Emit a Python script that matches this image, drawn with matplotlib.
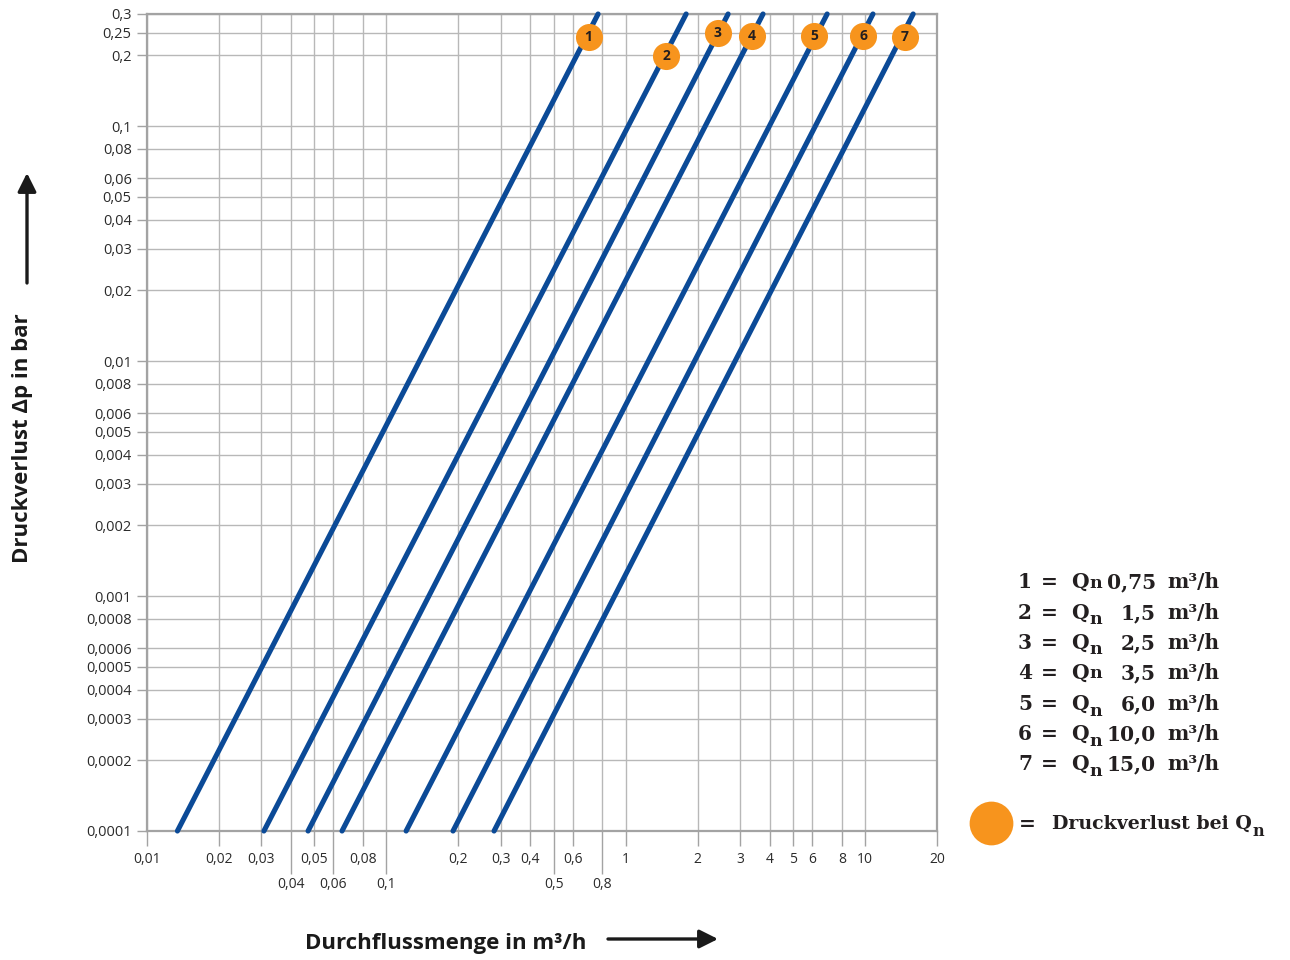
import matplotlib.pyplot as plt
from matplotlib.lines import Line2D
from matplotlib.ticker import FixedLocator, FixedFormatter, NullFormatter

# Kennlinien: Durchfluss am unteren (0,0001 bar) und oberen Rand (0,3 bar)
dp_range = [0.0001, 0.3]
q_start = [0.0134, 0.0308, 0.0471, 0.0653, 0.121, 0.190, 0.282]
q_end = [0.767, 1.79, 2.68, 3.75, 6.95, 10.8, 15.9]

# Druckverlust bei Qn (orange Punkte)
curve_ids = ['1', '2', '3', '4', '5', '6', '7']
marker_q = [0.70, 1.475, 2.43, 3.37, 6.12, 9.82, 14.7]
marker_dp = [0.24, 0.198, 0.248, 0.242, 0.242, 0.242, 0.24]

# Legende
qn_values = ['0,75', '1,5', '2,5', '3,5', '6,0', '10,0', '15,0']
qn_subscript = [False, True, True, False, True, True, True]

# Achsenteilung
x_ticks_row1 = [0.01, 0.02, 0.03, 0.05, 0.08, 0.2, 0.3, 0.4, 0.6, 1, 2, 3, 4, 5, 6, 8, 10, 20]
x_ticks_row2 = [0.04, 0.06, 0.1, 0.5, 0.8]
y_ticks = [0.0001, 0.0002, 0.0003, 0.0004, 0.0005, 0.0006, 0.0008,
           0.001, 0.002, 0.003, 0.004, 0.005, 0.006, 0.008,
           0.01, 0.02, 0.03, 0.04, 0.05, 0.06, 0.08,
           0.1, 0.2, 0.25, 0.3]


def fmt(v):
    return f'{v:g}'.replace('.', ',')


W, H = 1290, 960
BLUE = '#0b4a97'
ORANGE = '#f7941d'
GRID = '#b8b8b8'
FRAME = '#a3a3a3'
TEXT = '#2b2b2b'
SANS = ['Open Sans', 'DejaVu Sans']
SERIF = ['DejaVu Serif']


def fx(px):
    return px / W


def fy(py):
    return 1 - py / H


fig = plt.figure(figsize=(W / 100, H / 100), dpi=100)
ax = fig.add_axes([fx(147), fy(831), 790 / W, 817 / H])
ax.set_xscale('log')
ax.set_yscale('log')
ax.set_xlim(0.01, 20)
ax.set_ylim(0.0001, 0.3)

# Teilung und Gitter
ax.xaxis.set_major_locator(FixedLocator(x_ticks_row1))
ax.xaxis.set_major_formatter(FixedFormatter([fmt(v) for v in x_ticks_row1]))
ax.xaxis.set_minor_locator(FixedLocator(x_ticks_row2))
ax.xaxis.set_minor_formatter(FixedFormatter([fmt(v) for v in x_ticks_row2]))
ax.yaxis.set_major_locator(FixedLocator(y_ticks))
ax.yaxis.set_major_formatter(FixedFormatter([fmt(v) for v in y_ticks]))
ax.yaxis.set_minor_formatter(NullFormatter())
ax.yaxis.set_minor_locator(FixedLocator([]))

ax.tick_params(axis='x', which='major', length=11, width=1, color=FRAME, pad=4,
               labelsize=10, labelcolor=TEXT)
ax.tick_params(axis='x', which='minor', length=31, width=1, color=FRAME, pad=2,
               labelsize=10, labelcolor=TEXT)
ax.tick_params(axis='y', which='major', length=7, width=1, color=FRAME, pad=4,
               labelsize=10.5, labelcolor=TEXT)
for lab in ax.get_xticklabels(which='both') + ax.get_yticklabels():
    lab.set_family(SANS)

ax.grid(True, which='both', color=GRID, linewidth=1)
ax.set_axisbelow(True)
for sp in ax.spines.values():
    sp.set_color(FRAME)
    sp.set_linewidth(1.6)

# Kennlinien
for qs, qe in zip(q_start, q_end):
    ax.plot([qs, qe], dp_range, color=BLUE, linewidth=3.7,
            solid_capstyle='round', clip_on=False, zorder=3)

# Druckverlust bei Qn
for cid, q, dp in zip(curve_ids, marker_q, marker_dp):
    ax.plot(q, dp, 'o', markersize=19.5, color=ORANGE, markeredgewidth=0,
            clip_on=False, zorder=4)
    ax.text(q, dp, cid, ha='center', va='center', fontsize=10, fontweight='bold',
            color='#231f20', family=SANS, zorder=5)

# Achsenbeschriftungen mit Pfeilen
fig.text(fx(23), fy(438), 'Druckverlust \u0394p in bar', rotation=90,
         ha='center', va='center', fontsize=16, fontweight='bold',
         color='#1a1a1a', family=SANS)
ax.annotate('', xy=(fx(27), fy(173)), xytext=(fx(27), fy(283)),
            xycoords='figure fraction', textcoords='figure fraction',
            arrowprops=dict(arrowstyle='-|>', lw=2.4, color='#1a1a1a',
                            mutation_scale=28, shrinkA=0, shrinkB=0),
            annotation_clip=False)
fig.text(fx(446), fy(944), 'Durchflussmenge in m\u00b3/h', ha='center', va='center',
         fontsize=16, fontweight='bold', color='#1a1a1a', family=SANS)
ax.annotate('', xy=(fx(718), fy(939)), xytext=(fx(608), fy(939)),
            xycoords='figure fraction', textcoords='figure fraction',
            arrowprops=dict(arrowstyle='-|>', lw=2.4, color='#1a1a1a',
                            mutation_scale=28, shrinkA=0, shrinkB=0),
            annotation_clip=False)

# Legende rechts
renderer = fig.canvas.get_renderer()
row_y = [582, 613, 643, 673, 704, 734, 764]
legend_kw = dict(fontsize=14.5, fontweight='bold', color='#231f20', family=SERIF, va='center')


def q_with_n(x_px, y_px, text, sub, size):
    # Q (bzw. Text mit Q am Ende) und danach das n, tiefgestellt oder nicht
    t = fig.text(fx(x_px), fy(y_px), text, ha='left', **dict(legend_kw, fontsize=size))
    x_end = t.get_window_extent(renderer).x1
    fig.text((x_end + 1) / W, fy(y_px + (7 if sub else 1)), 'n', ha='left',
             **dict(legend_kw, fontsize=size - 2))


for cid, val, sub, y in zip(curve_ids, qn_values, qn_subscript, row_y):
    fig.text(fx(1025), fy(y), cid, ha='center', **legend_kw)
    fig.text(fx(1049), fy(y), '=', ha='center', **legend_kw)
    q_with_n(1071, y, 'Q', sub, 14.5)
    fig.text(fx(1156), fy(y), val, ha='right', **legend_kw)
    fig.text(fx(1167), fy(y), 'm\u00b3/h', ha='left', **legend_kw)

fig.add_artist(Line2D([fx(991)], [fy(823)], marker='o', markersize=31.5,
                      color=ORANGE, markeredgewidth=0, transform=fig.transFigure))
fig.text(fx(1027), fy(824), '=', ha='center', **legend_kw)
q_with_n(1052, 824, 'Druckverlust bei Q', True, 13.6)

fig.savefig('out.png', dpi=100)
